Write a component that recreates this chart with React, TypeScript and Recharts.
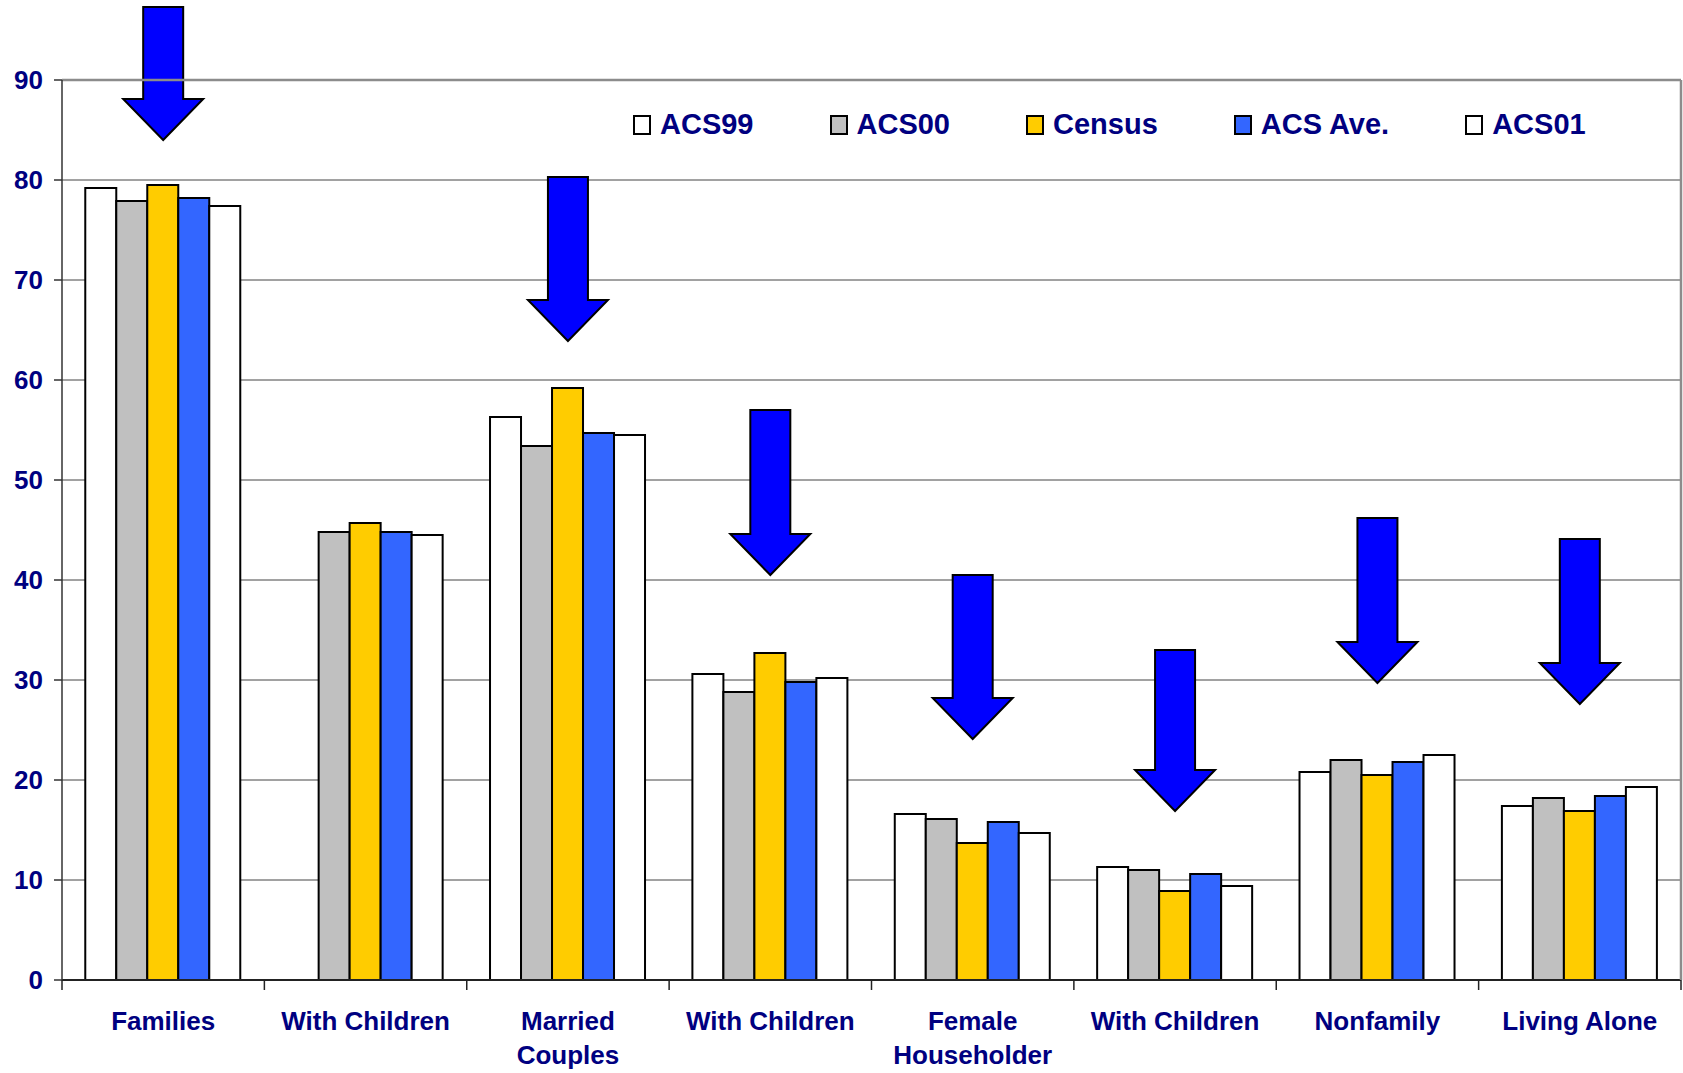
import React from 'react';
import {
  BarChart,
  Bar,
  XAxis,
  YAxis,
  CartesianGrid,
  ReferenceArea,
  ReferenceLine,
} from 'recharts';

const groupIds = ['families', 'famKids', 'married', 'marKids', 'female', 'femKids', 'nonfamily', 'alone'];
const groupLabels = [
  ['Families'],
  ['With Children'],
  ['Married', 'Couples'],
  ['With Children'],
  ['Female', 'Householder'],
  ['With Children'],
  ['Nonfamily'],
  ['Living Alone'],
];

const acs99 = [79.2, null, 56.3, 30.6, 16.6, 11.3, 20.8, 17.4];
const acs00 = [77.9, 44.8, 53.4, 28.8, 16.1, 11.0, 22.0, 18.2];
const census = [79.5, 45.7, 59.2, 32.7, 13.7, 8.9, 20.5, 16.9];
const acsAve = [78.2, 44.8, 54.7, 29.8, 15.8, 10.6, 21.8, 18.4];
const acs01 = [77.4, 44.5, 54.5, 30.2, 14.7, 9.4, 22.5, 19.3];

// arrows: top of shaft and tip of head, in axis units
const arrowTop = [97.3, null, 80.3, 57.0, 40.5, 33.0, 46.2, 44.1];
const arrowTip = [84.0, null, 63.9, 40.5, 24.1, 16.9, 29.7, 27.6];

const yTicks = [0, 10, 20, 30, 40, 50, 60, 70, 80, 90];

const series = [
  { key: 'acs99', name: 'ACS99', color: '#FFFFFF', values: acs99 },
  { key: 'acs00', name: 'ACS00', color: '#C0C0C0', values: acs00 },
  { key: 'census', name: 'Census', color: '#FFCC00', values: census },
  { key: 'acsAve', name: 'ACS Ave.', color: '#3366FF', values: acsAve },
  { key: 'acs01', name: 'ACS01', color: '#FFFFFF', values: acs01 },
];

const data = groupIds.map((id, i) => {
  const row: Record<string, any> = { id };
  series.forEach((s) => (row[s.key] = s.values[i]));
  return row;
});

const NAVY = '#000080';
const FONT = '"Liberation Sans", Arial, sans-serif';
const W = 1683;
const H = 1073;
const PLOT_W = 1619;
const CAT_HALF = PLOT_W / groupIds.length / 2;

const CategoryTick = (props: any) => {
  const { x, y, payload } = props;
  const idx = groupIds.indexOf(payload.value);
  const half = payload.offset || CAT_HALF;
  const lines = groupLabels[idx] || [];
  return (
    <g>
      <line x1={x - half} x2={x - half} y1={y} y2={y + 10} stroke="#222" strokeWidth={1.5} />
      {idx === groupIds.length - 1 && (
        <line x1={x + half} x2={x + half} y1={y} y2={y + 10} stroke="#222" strokeWidth={1.5} />
      )}
      <text
        x={x}
        y={y + 50}
        textAnchor="middle"
        fill={NAVY}
        fontSize={26}
        fontWeight={700}
        fontFamily={FONT}
      >
        {lines.map((l, k) => (
          <tspan key={k} x={x} dy={k === 0 ? 0 : 34}>
            {l}
          </tspan>
        ))}
      </text>
    </g>
  );
};

const ArrowShape = (props: any) => {
  const { x, y, width, height } = props;
  const cx = x + width / 2;
  const top = y;
  const tip = y + height;
  const wing = tip - 41;
  const pts = [
    [cx - 20, top],
    [cx + 20, top],
    [cx + 20, wing],
    [cx + 40, wing],
    [cx, tip],
    [cx - 40, wing],
    [cx - 20, wing],
  ]
    .map((p) => p.join(','))
    .join(' ');
  return <polygon points={pts} fill="#0000FF" stroke="#000" strokeWidth={2} strokeLinejoin="miter" />;
};

export default function App() {
  return (
    <div style={{ position: 'relative', width: W, height: H, background: '#fff' }}>
      <style>{`body{margin:0;}`}</style>
      <BarChart
        width={W}
        height={H}
        data={data}
        margin={{ top: 80, right: 1, bottom: 0, left: 0 }}
        barGap={0}
        barCategoryGap="11.5%"
      >
        <CartesianGrid vertical={false} stroke="#444" strokeWidth={1} />
        <XAxis
          dataKey="id"
          interval={0}
          height={93}
          tickSize={0}
          tickMargin={0}
          tickLine={false}
          axisLine={{ stroke: '#222', strokeWidth: 2 }}
          tick={<CategoryTick />}
        />
        <YAxis
          width={62}
          domain={[0, 90]}
          ticks={yTicks}
          interval={0}
          tickSize={8}
          tickMargin={11}
          axisLine={{ stroke: '#333', strokeWidth: 1.5 }}
          tickLine={{ stroke: '#333', strokeWidth: 1.5 }}
          tick={{ fill: NAVY, fontSize: 26, fontWeight: 700, fontFamily: FONT }}
        />
        <YAxis
          yAxisId="frame"
          orientation="right"
          width={1}
          domain={[0, 90]}
          tick={false}
          tickLine={false}
          axisLine={{ stroke: '#8c8c8c', strokeWidth: 2.5 }}
        />
        <ReferenceLine y={90} stroke="#8c8c8c" strokeWidth={2.5} />
        {series.map((s) => (
          <Bar
            key={s.key}
            dataKey={s.key}
            name={s.name}
            fill={s.color}
            stroke="#000"
            strokeWidth={2}
            isAnimationActive={false}
          />
        ))}
        {groupIds.map((id, i) =>
          arrowTop[i] == null ? null : (
            <ReferenceArea
              key={id}
              x1={id}
              x2={id}
              y1={arrowTip[i] as number}
              y2={arrowTop[i] as number}
              ifOverflow="visible"
              shape={ArrowShape}
            />
          )
        )}
      </BarChart>
      <div
        style={{
          position: 'absolute',
          left: 633,
          top: 110,
          display: 'flex',
          alignItems: 'center',
          gap: 76,
          fontFamily: FONT,
          fontWeight: 700,
          fontSize: 29,
          lineHeight: '29px',
          color: NAVY,
        }}
      >
        {series.map((s) => (
          <div key={s.key} style={{ display: 'flex', alignItems: 'center', gap: 9 }}>
            <span
              style={{
                display: 'inline-block',
                width: 14,
                height: 16,
                background: s.color,
                border: '2px solid #000',
              }}
            />
            <span>{s.name}</span>
          </div>
        ))}
      </div>
    </div>
  );
}
